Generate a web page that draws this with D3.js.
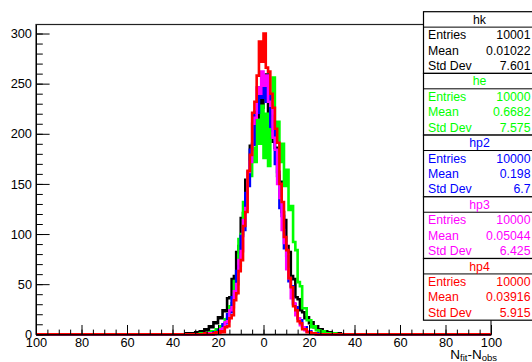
<!DOCTYPE html>
<html><head><meta charset="utf-8">
<script src="https://cdn.jsdelivr.net/npm/d3@7"></script>
<style>body{margin:0;background:#fff}svg{display:block;font-family:"Liberation Sans",Arial,Helvetica,sans-serif}</style>
</head><body><svg id="c" width="532" height="362"></svg>
<script>
// ---- data ----
const binStart = -35;   // low edge of first listed bin, bins are 1 unit wide; all other bins are empty
const hk  = [0,1,0,1,1,2,1,3,2,5,4,8,7,12,11,17,16,24,23,36,37,55,58,82,88,116,121,154,158,188,190,218,214,238,226,
             242,259,222,218,192,186,158,152,122,114,88,82,58,55,37,35,24,22,16,17,11,12,7,8,4,5,2,3,1,2,1,1,0,1,0];
const he  = [0,0,0,0,0,0,0,1,0,1,1,2,3,2,5,4,8,9,15,16,28,31,53,60,95,100,132,134,162,158,186,172,214,190,228,
             176,220,168,236,256,194,212,172,190,148,164,124,128,92,84,52,48,26,26,14,14,7,8,4,4,2,3,1,1,1,0,1,0,0,0];
const hp2 = [0,0,0,0,0,0,0,0,0,1,0,1,0,2,2,4,5,10,11,20,22,37,40,63,68,98,104,141,148,184,189,222,221,246,236,
             252,232,238,207,203,170,162,126,118,86,78,53,48,30,27,16,14,7,7,3,3,1,1,1,0,0,0,0,0,0,0,0,0,0,0];
const hp3 = [0,0,0,0,0,0,0,0,0,0,1,0,1,0,2,2,5,6,12,13,24,27,43,50,74,83,114,126,162,172,210,216,246,240,262,
             248,258,232,228,196,184,150,136,104,91,65,56,36,31,19,16,9,7,4,3,2,1,1,0,0,0,0,0,0,0,0,0,0,0,0];
const hp4 = [0,0,0,0,0,0,0,0,0,1,0,0,0,1,2,1,3,2,7,8,16,19,34,41,63,74,108,122,163,179,221,232,258,292,272,
             300,266,262,240,226,205,191,150,132,97,84,56,47,28,24,13,11,5,5,2,2,1,1,0,0,0,0,0,0,0,0,0,0,0,0];

const seriesNames  = ["hk","he","hp2","hp3","hp4"];
const seriesColors = ["#000000","#00ff00","#0000ff","#ff00ff","#ff0000"];
const seriesData   = [hk, he, hp2, hp3, hp4];
const statEntries  = ["10001","10000","10000","10000","10000"];
const statMeans    = ["0.01022","0.6682","0.198","0.05044","0.03916"];
const statStdDevs  = ["7.601","7.575","6.7","6.425","5.915"];
const statLabels   = ["Entries","Mean","Std Dev"];

const xMajorTicks  = [-100,-80,-60,-40,-20,0,20,40,60,80,100];
const xTickLabels  = ["100","80","60","40","20","0","20","40","60","80","100"];
const yMajorTicks  = [0,50,100,150,200,250,300];
const yTickLabels  = ["0","50","100","150","200","250","300"];

// ---- layout ----
const svg = d3.select("#c");
const L = 36, R = 491, T = 24.5, B = 334.3;
const x = d3.scaleLinear().domain([-100,100]).range([L,R]);
const y = d3.scaleLinear().domain([0,309]).range([B,T]);

// frame
svg.append("rect").attr("x",L).attr("y",T).attr("width",R-L).attr("height",B-T)
  .attr("fill","none").attr("stroke","#222").attr("stroke-width",1.2);

// histograms
const line = d3.line().x(d=>x(d[0])).y(d=>y(d[1])).curve(d3.curveStepAfter);
seriesData.forEach((vals,k)=>{
  const pts = [[-100,0]];
  vals.forEach((v,i)=>pts.push([binStart+i, v]));
  pts.push([binStart+vals.length,0]);
  pts.push([100,0]);
  svg.append("path").attr("d",line(pts)).attr("fill","none")
    .attr("stroke",seriesColors[k]).attr("stroke-width",2.6).attr("stroke-linejoin","miter");
});

// x axis
const gx = svg.append("g").attr("transform",`translate(0,${B})`);
gx.call(d3.axisBottom(x).tickValues(d3.range(-100,101,5)).tickSize(-4.7).tickSizeOuter(0).tickFormat(""));
const gx2 = svg.append("g").attr("transform",`translate(0,${B})`);
gx2.call(d3.axisBottom(x).tickValues(xMajorTicks).tickSize(-9.3).tickSizeOuter(0)
  .tickPadding(4).tickFormat((d,i)=>xTickLabels[i]));
// y axis
const gy = svg.append("g").attr("transform",`translate(${L},0)`);
gy.call(d3.axisLeft(y).tickValues(d3.range(0,301,10)).tickSize(-6.8).tickSizeOuter(0).tickFormat(""));
const gy2 = svg.append("g").attr("transform",`translate(${L},0)`);
gy2.call(d3.axisLeft(y).tickValues(yMajorTicks).tickSize(-13.6).tickSizeOuter(0)
  .tickPadding(4).tickFormat((d,i)=>yTickLabels[i]));
svg.selectAll(".tick text").attr("font-size",12.8).attr("fill","#000")
  .attr("font-family","'Liberation Sans',Arial,sans-serif");
svg.selectAll(".domain").attr("stroke","#000");
svg.selectAll(".tick line").attr("stroke","#000");

// axis title N_fit - N_obs
const tt = svg.append("text").attr("x",497).attr("y",358.5).attr("text-anchor","end")
  .attr("font-size",13.5).attr("fill","#000");
tt.append("tspan").text("N");
tt.append("tspan").attr("font-size",9.5).attr("dy",2.5).text("fit");
tt.append("tspan").attr("dy",-2.5).text("-N");
tt.append("tspan").attr("font-size",9.5).attr("dy",2.5).text("obs");

// stats boxes
const bx = 423.5, bw = 112, bh = 61.7, by0 = 11.7;
seriesNames.forEach((nm,k)=>{
  const top = by0 + k*bh, c = seriesColors[k];
  const g = svg.append("g");
  g.append("rect").attr("x",bx).attr("y",top).attr("width",bw).attr("height",bh)
    .attr("fill","#fff").attr("stroke","#000").attr("stroke-width",1.2);
  g.append("line").attr("x1",bx).attr("x2",bx+bw).attr("y1",top+bh/4).attr("y2",top+bh/4)
    .attr("stroke","#000").attr("stroke-width",1);
  g.append("text").attr("x",bx+bw/2).attr("y",top+bh/8).attr("dy","0.35em")
    .attr("text-anchor","middle").attr("font-size",12.3).attr("fill",c).text(nm);
  const vals = [statEntries[k], statMeans[k], statStdDevs[k]];
  statLabels.forEach((lb,j)=>{
    const yy = top + bh/4 + bh/8 + j*bh/4;
    g.append("text").attr("x",bx+4.5).attr("y",yy).attr("dy","0.35em")
      .attr("font-size",12.3).attr("fill",c).text(lb);
    g.append("text").attr("x",530.5).attr("y",yy).attr("dy","0.35em").attr("text-anchor","end")
      .attr("font-size",12.3).attr("fill",c).text(vals[j]);
  });
});
</script></body></html>
